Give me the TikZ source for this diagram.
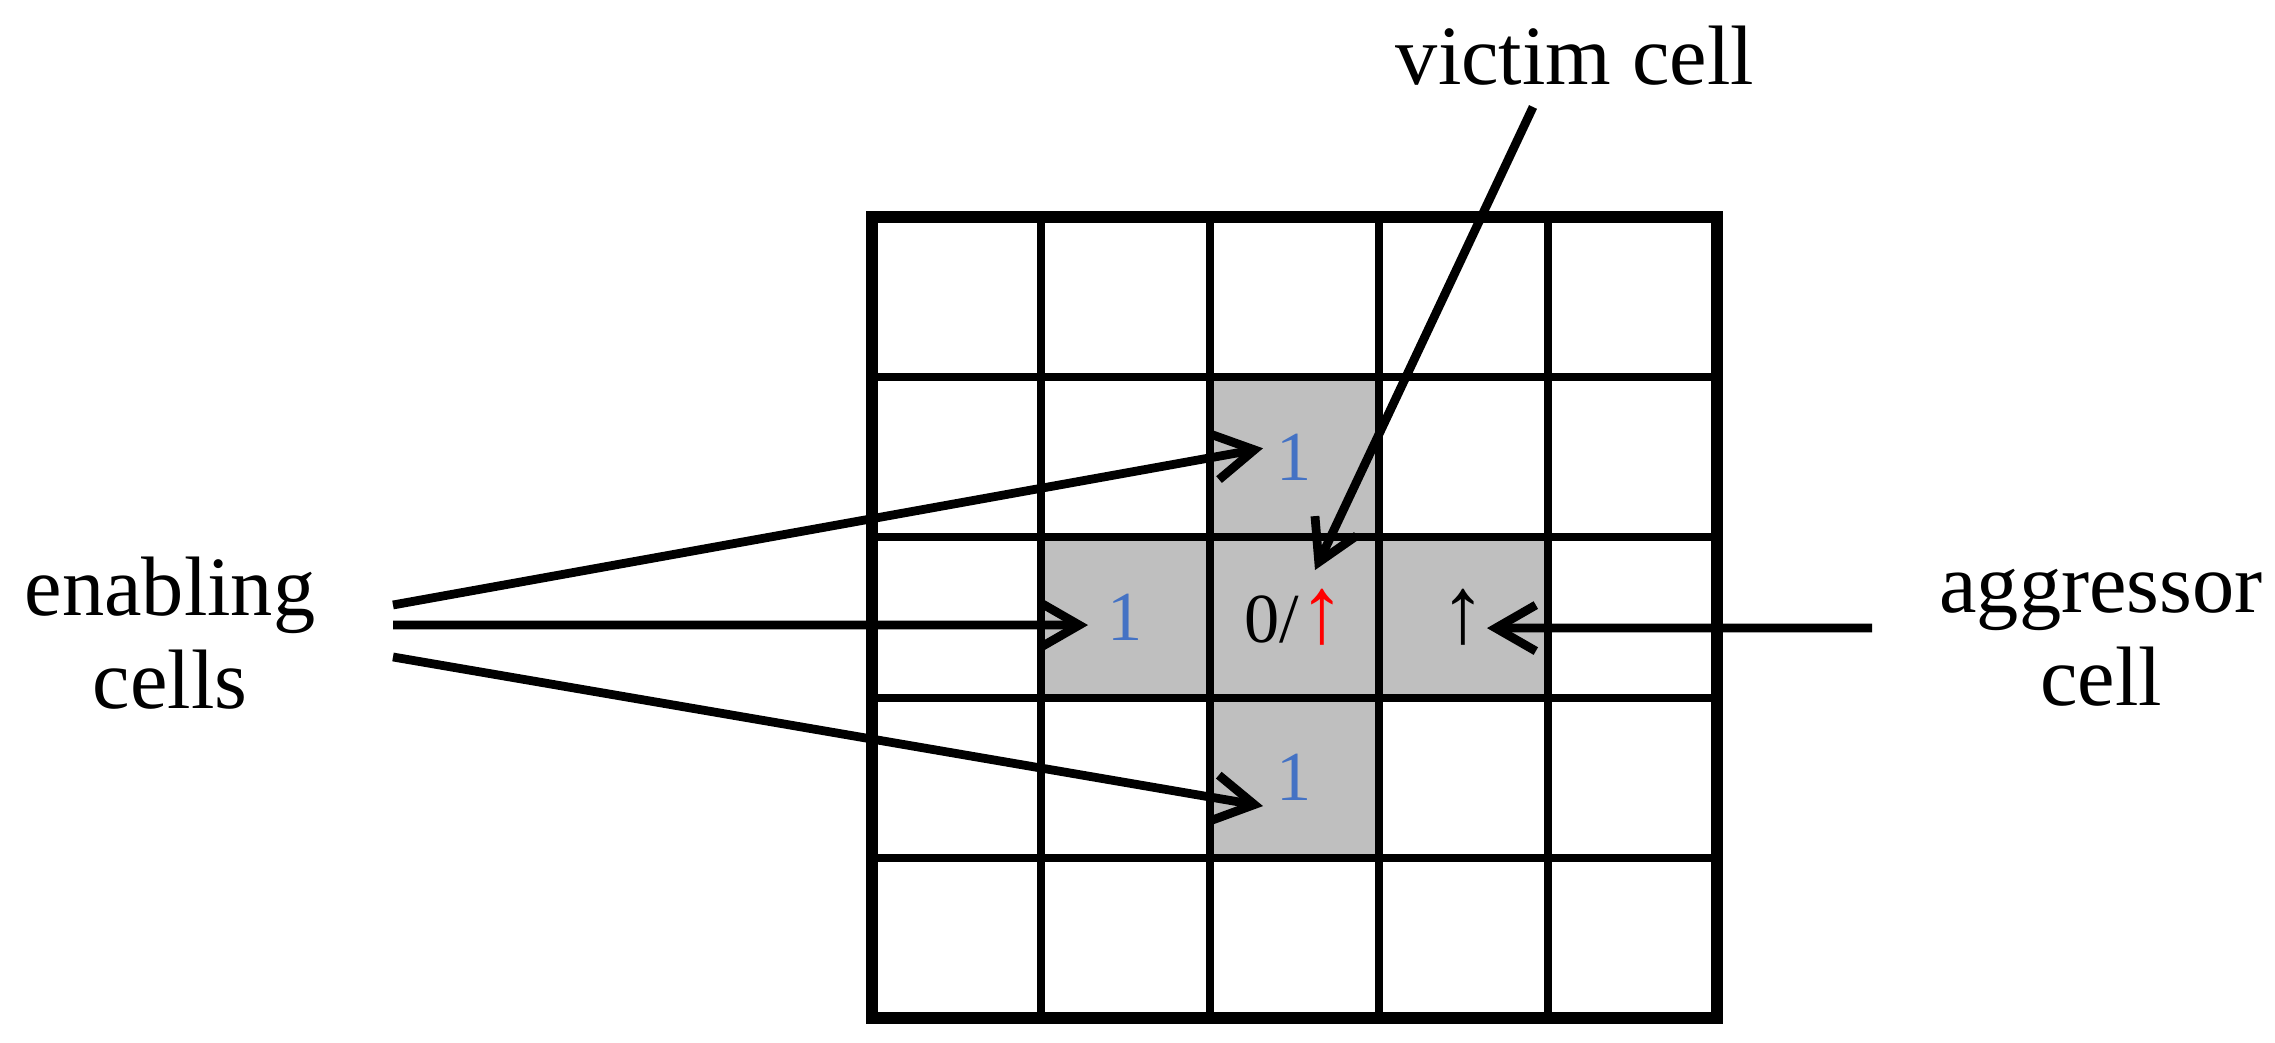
\documentclass[tikz,border=0pt]{standalone}
\usepackage{fontspec}
\setmainfont{Liberation Serif}
\usetikzlibrary{arrows.meta, positioning}
\definecolor{cellgray}{RGB}{191, 191, 191}
\definecolor{oneblue}{RGB}{68, 114, 196}
\definecolor{flipred}{RGB}{255, 0, 0}
\newcommand{\upflip}{\scalebox{1.3}[1.35]{↑}}

\begin{document}
\begin{tikzpicture}[
        cell/.style={rectangle, draw=black, line width=2.3pt, minimum width=1.69cm, minimum height=1.602cm, inner sep=0pt, outer sep=0pt, anchor=south west},
        hot/.style={cell, fill=cellgray},
        val/.style={font=\fontsize{20}{20}\selectfont, inner sep=0pt},
        sidetext/.style={font=\fontsize{24}{26.5}\selectfont, align=center},
        pointer/.style={line width=2.5pt, -{Straight Barb[length=0.4cm, width=0.46cm]}}
    ]
        \useasboundingbox (0,0) rectangle (22.75,10.43);

        % Grid of cells
        \foreach \i in {0,...,4}
            \foreach \j in {0,...,4}
                \node[cell] (c\i\j) at (8.72+\i*1.69, 0.25+\j*1.602) {};

        % Neighbourhood of the victim
        \node[hot] (h23) at (c23.south west) {};
        \node[hot] (h12) at (c12.south west) {};
        \node[hot] (h22) at (c22.south west) {};
        \node[hot] (h32) at (c32.south west) {};
        \node[hot] (h21) at (c21.south west) {};
        \draw[line width=3.2pt] (c00.south west) rectangle (c44.north east);

        % Cell values
        \node[val, text=oneblue] (vtop) at (h23.center) {1};
        \node[val, text=oneblue] (vmid) at (h12.center) {1};
        \node[val, text=oneblue] (vbot) at (h21.center) {1};
        \node[val] (vvic) at (h22.center) {0/\textcolor{flipred}{\upflip}};
        \node[val] (vagg) at (h32.center) {\upflip};

        % Labels
        \node[sidetext] (enab) at (1.70,4.10) {enabling\\cells};
        \node[sidetext] (aggr) at (21.01,4.05) {aggressor\\cell};
        \node[sidetext, anchor=base] (vict) at (15.75,9.58) {victim cell};

        % Arrows
        \coordinate (en-a) at (3.93,4.38);
        \coordinate (en-b) at (3.93,4.18);
        \coordinate (en-c) at (3.93,3.86);
        \coordinate (ag-a) at (18.72,4.15);
        \coordinate (vi-a) at (15.33,9.36);
        \draw[pointer] (en-a) -- ([shift={(-0.315,0.09)}]h23.center);
        \draw[pointer] (en-b) -- ([shift={(-0.375,-0.076)}]h12.center);
        \draw[pointer] (en-c) -- ([shift={(-0.315,-0.284)}]h21.center);
        \draw[pointer] (ag-a) -- ([shift={(0.235,-0.106)}]h32.center);
        \draw[pointer] (vi-a) -- ([shift={(0.205,0.474)}]h22.center);
    \end{tikzpicture}
\end{document}
